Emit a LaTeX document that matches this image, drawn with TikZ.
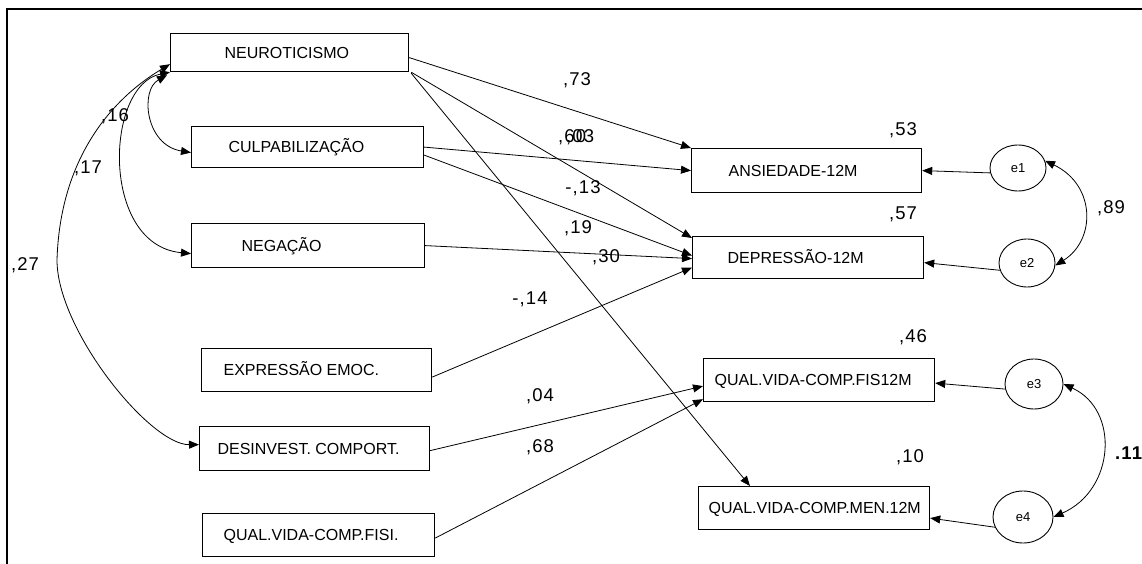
\documentclass[tikz,border=0pt]{standalone}
\usepackage{fontspec}
\setmainfont{Liberation Sans}
\newfontfamily\numfont[LetterSpace=6]{Liberation Sans}
\usetikzlibrary{arrows.meta,shapes.geometric}

% left-aligned box text with a fixed indent
\newcommand\padtext[3]{\makebox[#1][l]{\hspace*{#2}#3}}

\begin{document}
\begin{tikzpicture}[x=1pt,y=-1pt,
  var/.style={draw, line width=1.2pt, inner sep=0pt, anchor=north west,
    text height=11.7pt, text depth=0pt, font=\fontsize{16}{18}\selectfont},
  err/.style={draw, ellipse, line width=0.9pt, inner sep=0pt,
    font=\fontsize{13}{15}\selectfont},
  path/.style={line width=0.8pt, -{Triangle[length=10pt,width=8pt]}},
  cov/.style={line width=0.8pt, {Triangle[length=10pt,width=8pt]}-{Triangle[length=10pt,width=8pt]}},
  coef/.style={inner sep=0pt, text height=13pt, text depth=0pt,
    font=\numfont\fontsize{18.5}{20}\selectfont}
]
\useasboundingbox (0,0) rectangle (1142,564);

% frame
\draw[line width=2.5pt] (1142,9) -- (7,9) -- (7,564);

% observed variables
\node[var, minimum height=38pt] (neuro)  at (170,33)  {\padtext{238pt}{54pt}{NEUROTICISMO}};
\node[var, minimum height=41pt] (culp)   at (191,126) {\padtext{232pt}{37pt}{CULPABILIZAÇÃO}};
\node[var, minimum height=44pt] (neg)    at (191,223) {\padtext{233pt}{50pt}{NEGAÇÃO}};
\node[var, minimum height=43pt] (expr)   at (201,348) {\padtext{230pt}{22pt}{EXPRESSÃO EMOC.}};
\node[var, minimum height=44pt] (desinv) at (199,426) {\padtext{230pt}{18pt}{DESINVEST. COMPORT.}};
\node[var, minimum height=43pt] (fisi)   at (202,513) {\padtext{232pt}{21pt}{QUAL.VIDA-COMP.FISI.}};
\node[var, minimum height=44pt] (ans)    at (691,148) {\padtext{230pt}{37pt}{ANSIEDADE-12M}};
\node[var, minimum height=42pt] (dep)    at (692,236) {\padtext{231pt}{35pt}{DEPRESSÃO-12M}};
\node[var, minimum height=43pt] (fis)    at (703,358) {\padtext{231pt}{11pt}{QUAL.VIDA-COMP.FIS12M}};
\node[var, minimum height=43pt] (men)    at (698,486) {\padtext{231pt}{10pt}{QUAL.VIDA-COMP.MEN.12M}};

% error terms
\node[err, minimum width=56pt, minimum height=46pt] (e1) at (1018,168) {e1};
\node[err, minimum width=56pt, minimum height=48pt] (e2) at (1027,263) {e2};
\node[err, minimum width=58pt, minimum height=50pt] (e3) at (1034,384) {e3};
\node[err, minimum width=60pt, minimum height=52pt] (e4) at (1023,517) {e4};

% regression paths
\draw[path] ([yshift=-5pt]neuro.east) -- (ans.north west);
\draw[path] ([xshift=2pt]neuro.south east) -- ([yshift=-2pt]dep.north west);
\draw[path] ([xshift=2pt,yshift=-1pt]neuro.south east) -- ([xshift=52pt]men.north west);
\draw[path] (culp.east) -- (ans.west);
\draw[path] ([yshift=-8pt]culp.east) -- ([yshift=2pt]dep.west);
\draw[path] (neg.east) -- ([yshift=-1pt]dep.west);
\draw[path] ([yshift=-7pt]expr.east) -- ([yshift=-10pt]dep.west);
\draw[path] ([yshift=-2pt]desinv.east) -- ([yshift=-6pt]fis.west);
\draw[path] ([yshift=-3pt]fisi.east) -- ([yshift=3pt]fis.south west);

% residual paths
\draw[path] (e1.190) -- (ans.east);
\draw[path] (e2.195) -- ([yshift=-5pt]dep.east);
\draw[path] (e3.190) -- ([yshift=-3pt]fis.east);
\draw[path] (e4.200) -- ([yshift=-10pt]men.east);

% covariances
\draw[cov] (e1.15) .. controls (1096,185) and (1096,240) .. (e2.-5);
\draw[cov] (e3.0) .. controls (1120,410) and (1115,490) .. (e4.0);
\draw[cov] ([xshift=-3pt,yshift=-3pt]neuro.south west) .. controls (140,90) and (145,145) .. ([yshift=-5.5pt]culp.west);
\draw[cov] (neuro.south west) .. controls (105,85) and (100,245) .. ([yshift=-8pt]neg.west);
\draw[cov] ([yshift=8pt]neuro.south west) .. controls (110,100) and (60,160) .. (57,260)
  .. controls (57,330) and (150,445) .. ([yshift=4pt]desinv.west);

% coefficients
\node[coef] at (577,79) {,73};
\node[coef, anchor=west] at (558,136) {,60};
\node[coef, anchor=west] at (566,136) {,03};
\node[coef] at (583,187) {-,13};
\node[coef] at (578,227) {,19};
\node[coef] at (606,256) {,30};
\node[coef] at (530,298) {-,14};
\node[coef] at (540,395) {,04};
\node[coef] at (540,446) {,68};
\node[coef] at (903,129) {,53};
\node[coef] at (903,213) {,57};
\node[coef] at (1111,207) {,89};
\node[coef] at (913,336) {,46};
\node[coef] at (910,456) {,10};
\node[coef, anchor=west, font=\numfont\fontsize{18.5}{20}\selectfont\bfseries] at (1115,453) {.11};
\node[coef] at (115,115) {,16};
\node[coef] at (88,167) {,17};
\node[coef] at (25,264) {,27};
\end{tikzpicture}
\end{document}
